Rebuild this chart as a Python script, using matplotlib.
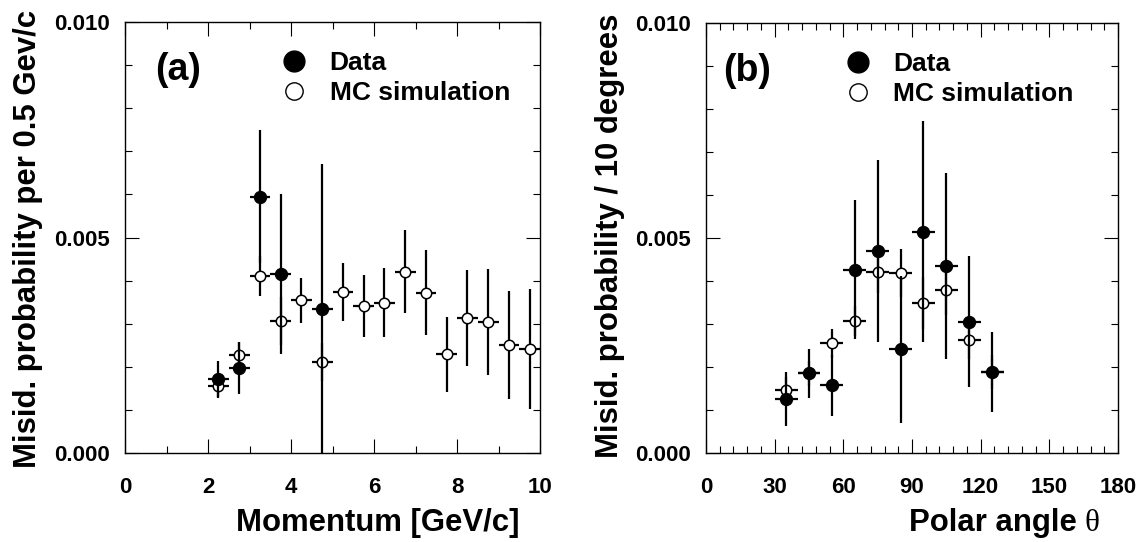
import matplotlib
matplotlib.use("Agg")
import matplotlib.pyplot as plt
from matplotlib.lines import Line2D
from matplotlib.ticker import MultipleLocator

plt.rcParams['font.family'] = ['Liberation Sans', 'DejaVu Sans']
plt.rcParams['font.weight'] = 'bold'

# ---- Panel (a): momentum ----
mom_data_x = [2.25, 2.75, 3.25, 3.75, 4.75]
mom_data_y = [1.71e-3, 1.98e-3, 5.95e-3, 4.15e-3, 3.34e-3]
mom_data_err = [0.43e-3, 0.60e-3, 1.54e-3, 1.86e-3, 3.37e-3]
mom_mc_x = [2.25, 2.75, 3.25, 3.75, 4.25, 4.75, 5.25, 5.75, 6.25, 6.75,
            7.25, 7.75, 8.25, 8.75, 9.25, 9.75]
mom_mc_y = [1.55e-3, 2.27e-3, 4.11e-3, 3.06e-3, 3.54e-3, 2.11e-3, 3.73e-3, 3.42e-3,
            3.49e-3, 4.21e-3, 3.72e-3, 2.29e-3, 3.14e-3, 3.04e-3, 2.51e-3, 2.41e-3]
mom_mc_err = [0.24e-3, 0.31e-3, 0.47e-3, 0.55e-3, 0.53e-3, 0.44e-3, 0.67e-3, 0.72e-3,
              0.80e-3, 0.97e-3, 0.99e-3, 0.87e-3, 1.11e-3, 1.24e-3, 1.26e-3, 1.39e-3]
mom_bin_half = 0.25

# ---- Panel (b): polar angle ----
ang_x = [35, 45, 55, 65, 75, 85, 95, 105, 115, 125]
ang_data_y = [1.26e-3, 1.85e-3, 1.57e-3, 4.26e-3, 4.70e-3, 2.41e-3, 5.15e-3, 4.35e-3, 3.05e-3, 1.88e-3]
ang_data_err = [0.63e-3, 0.58e-3, 0.70e-3, 1.62e-3, 2.11e-3, 1.71e-3, 2.57e-3, 2.17e-3, 1.52e-3, 0.93e-3]
ang_mc_y = [1.47e-3, 1.85e-3, 2.55e-3, 3.06e-3, 4.21e-3, 4.19e-3, 3.49e-3, 3.80e-3, 2.63e-3, 1.88e-3]
ang_mc_err = [0.30e-3, 0.30e-3, 0.34e-3, 0.35e-3, 0.50e-3, 0.56e-3, 0.60e-3, 0.60e-3, 0.45e-3, 0.40e-3]
ang_bin_half = 5

y_ticks = [0.0, 0.005, 0.010]
y_ticklabels = ["0.000", "0.005", "0.010"]
mom_ticks = [0, 2, 4, 6, 8, 10]
ang_ticks = [0, 30, 60, 90, 120, 150, 180]

W, H = 1145, 542
fig = plt.figure(figsize=(W / 100, H / 100), dpi=100)

def px_axes(l, r, t, b):
    return fig.add_axes([l / W, 1 - b / H, (r - l) / W, (b - t) / H])

ax_a = px_axes(125, 540, 22, 453)
ax_b = px_axes(706, 1118, 23, 453)

def draw(ax, xd, yd, ed, xm, ym, em, xh):
    ax.errorbar(xm, ym, yerr=em, xerr=xh, fmt='o', ms=7.5, mfc='white', mec='black',
                mew=1.1, ecolor='black', elinewidth=1.6, capsize=0, zorder=3)
    ax.errorbar(xd, yd, yerr=ed, xerr=[xh] * len(xd), fmt='o', ms=8.6, mfc='black',
                mec='black', ecolor='black', elinewidth=1.6, capsize=0, zorder=4)

draw(ax_a, mom_data_x, mom_data_y, mom_data_err, mom_mc_x, mom_mc_y, mom_mc_err, mom_bin_half)
draw(ax_b, ang_x, ang_data_y, ang_data_err, ang_x, ang_mc_y, ang_mc_err, ang_bin_half)

ax_a.set_xlim(0, 10)
ax_b.set_xlim(0, 180)
ax_a.set_xticks(mom_ticks)
ax_a.xaxis.set_minor_locator(MultipleLocator(1))
ax_b.set_xticks(ang_ticks)
ax_b.xaxis.set_minor_locator(MultipleLocator(6))
for ax in (ax_a, ax_b):
    ax.set_ylim(0, 0.010)
    ax.set_yticks(y_ticks)
    ax.set_yticklabels(y_ticklabels)
    ax.yaxis.set_minor_locator(MultipleLocator(0.001))
    for s in ax.spines.values():
        s.set_linewidth(1.0)
    ax.tick_params(which='both', direction='in', top=True, right=True, width=0.8,
                   labelsize=16)
    ax.tick_params(which='major', length=10)
    ax.tick_params(which='minor', length=5)
    ax.tick_params(axis='y', pad=11)
    ax.tick_params(axis='x', pad=17)
    for lab in ax.get_xticklabels() + ax.get_yticklabels():
        lab.set_fontweight('bold')

title_fs = 22.4
ax_a.set_xlabel("Momentum [GeV/c]", fontsize=title_fs, fontweight='bold', ha='right', va='baseline')
ax_a.xaxis.set_label_coords(1 - 20 / 415, -0.181)
ax_b.set_xlabel("Polar angle", fontsize=title_fs, fontweight='bold', ha='right', va='baseline')
ax_b.xaxis.set_label_coords(1 - 41 / 412, -0.181)
ax_b.text(1 - 19 / 412, -0.181, "θ", transform=ax_b.transAxes, fontsize=title_fs,
          family='Liberation Serif', fontweight='normal', ha='right', va='baseline')

ax_a.set_ylabel("Misid. probability per 0.5 Gev/c", fontsize=title_fs, fontweight='bold', ha='right')
ax_a.yaxis.set_label_coords(-0.198, 1.028)
ax_b.set_ylabel("Misid. probability / 10 degrees", fontsize=title_fs, fontweight='bold', ha='right')
ax_b.yaxis.set_label_coords(-0.197, 1.021)

ax_a.text(0.072, 0.866, "(a)", transform=ax_a.transAxes, fontsize=27, fontweight='bold',
          ha='left', va='baseline')
ax_b.text(0.041, 0.866, "(b)", transform=ax_b.transAxes, fontsize=27, fontweight='bold',
          ha='left', va='baseline')

handles = [Line2D([], [], ls='none', marker='o', ms=15, mfc='black', mec='black'),
           Line2D([], [], ls='none', marker='o', ms=12.5, mfc='white', mec='black', mew=1.0)]
labels = ["Data", "MC simulation"]
for ax, xa in ((ax_a, 0.331), (ax_b, 0.291)):
    ax.legend(handles, labels, loc='upper left', bbox_to_anchor=(xa, 0.975), frameon=False,
              prop={'size': 19, 'weight': 'bold'}, handletextpad=0.85, labelspacing=0.22,
              handlelength=1.0, borderpad=0.2)

fig.savefig("out.png", dpi=100)
